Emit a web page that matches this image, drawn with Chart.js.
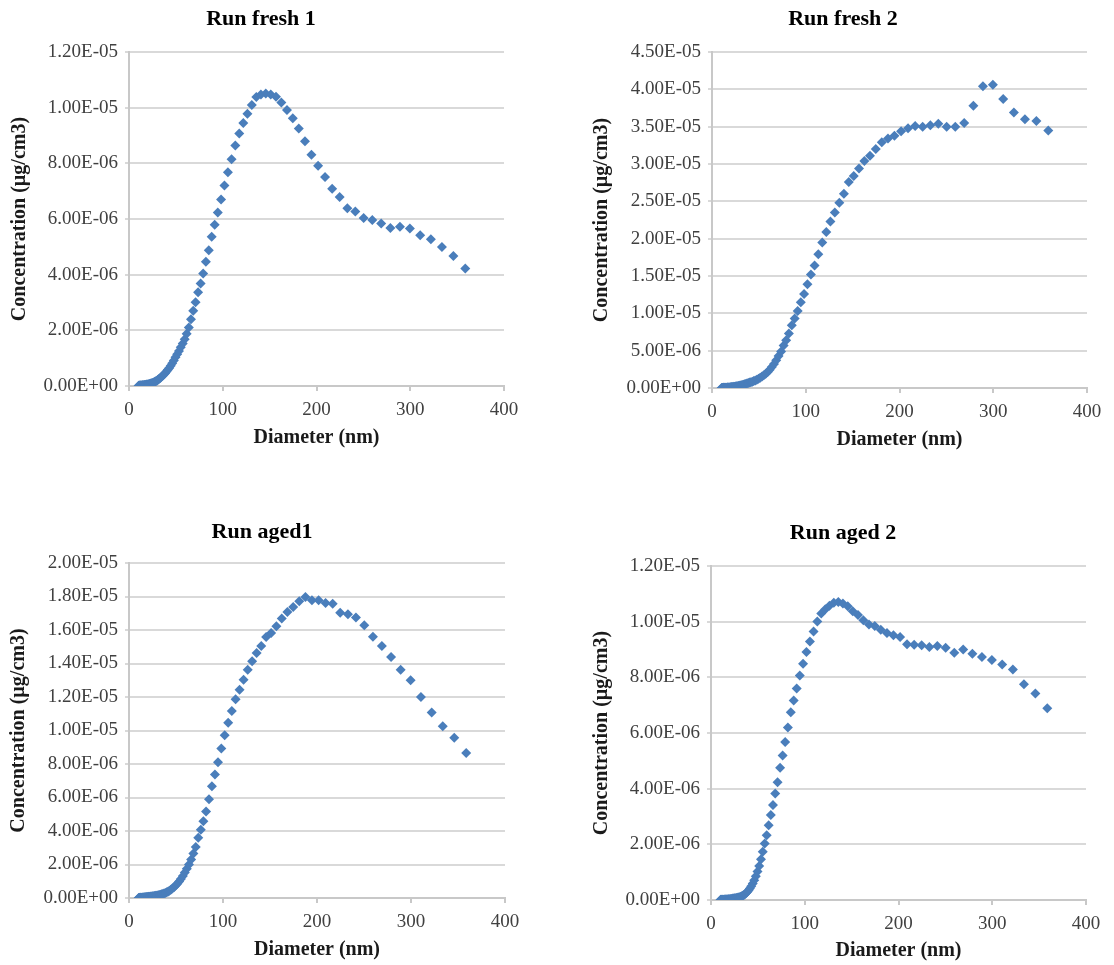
<!DOCTYPE html>
<html>
<head>
<meta charset="utf-8">
<title>Run fresh / aged size distributions</title>
<script src="https://cdn.jsdelivr.net/npm/chart.js@4.4.1/dist/chart.umd.min.js"></script>
<style>
  html, body { margin: 0; padding: 0; background: #ffffff; }
  #wrap { position: relative; width: 1114px; height: 965px; }
  #wrap canvas { position: absolute; left: 0; top: 0; }
</style>
</head>
<body>
<div id="wrap">
  <canvas id="fresh1" width="1114" height="965"></canvas>
  <canvas id="fresh2" width="1114" height="965"></canvas>
  <canvas id="aged1" width="1114" height="965"></canvas>
  <canvas id="aged2" width="1114" height="965"></canvas>
</div>
<script>
// SMPS bin midpoints (nm)
const diameters = [
  10.2, 10.6, 10.9, 11.3, 11.8, 12.2, 12.6, 13.1, 13.6, 14.1,
  14.6, 15.1, 15.7, 16.3, 16.8, 17.5, 18.1, 18.8, 19.5, 20.2,
  20.9, 21.7, 22.5, 23.3, 24.1, 25.0, 25.9, 26.9, 27.9, 28.9,
  30.0, 31.1, 32.2, 33.4, 34.6, 35.9, 37.2, 38.5, 40.0, 41.4,
  42.9, 44.5, 46.1, 47.8, 49.6, 51.4, 53.3, 55.2, 57.3, 59.4,
  61.5, 63.8, 66.1, 68.5, 71.0, 73.7, 76.4, 79.1, 82.0, 85.1,
  88.2, 91.4, 94.7, 98.2, 101.8, 105.5, 109.4, 113.4, 117.6, 121.9,
  126.3, 131.0, 135.8, 140.7, 145.9, 151.2, 156.8, 162.5, 168.5, 174.7,
  181.1, 187.7, 194.6, 201.7, 209.1, 216.7, 224.7, 232.9, 241.4, 250.3,
  259.5, 269.0, 278.8, 289.0, 299.6, 310.6, 322.0, 333.8, 346.0, 358.7,
];

// concentrations, in units of 1E-06 ug/cm3
const freshRun1 = [
  0.01, 0.01, 0.01, 0.015, 0.015, 0.015, 0.02, 0.02, 0.02, 0.025,
  0.025, 0.03, 0.03, 0.035, 0.035, 0.04, 0.045, 0.05, 0.05, 0.055,
  0.06, 0.07, 0.08, 0.09, 0.1, 0.11, 0.12, 0.14, 0.16, 0.18,
  0.2, 0.23, 0.26, 0.29, 0.33, 0.37, 0.41, 0.46, 0.52, 0.58,
  0.65, 0.73, 0.82, 0.92, 1.03, 1.14, 1.26, 1.39, 1.53, 1.68,
  1.88, 2.1, 2.4, 2.7, 3.01, 3.37, 3.68, 4.04, 4.46, 4.88,
  5.36, 5.79, 6.23, 6.7, 7.2, 7.68, 8.15, 8.64, 9.07, 9.45,
  9.78, 10.1, 10.38, 10.47, 10.51, 10.47, 10.39, 10.19, 9.92, 9.62,
  9.25, 8.79, 8.31, 7.91, 7.51, 7.09, 6.79, 6.39, 6.27, 6.04,
  5.96, 5.84, 5.68, 5.72, 5.66, 5.42, 5.27, 4.99, 4.67, 4.22,
];
const freshRun2 = [
  0.01, 0.01, 0.015, 0.015, 0.02, 0.02, 0.025, 0.03, 0.03, 0.035,
  0.04, 0.045, 0.05, 0.055, 0.06, 0.07, 0.075, 0.08, 0.09, 0.1,
  0.12, 0.13, 0.15, 0.16, 0.18, 0.2, 0.22, 0.24, 0.27, 0.3,
  0.33, 0.36, 0.4, 0.44, 0.49, 0.54, 0.6, 0.66, 0.72, 0.78,
  0.85, 0.93, 1.02, 1.12, 1.24, 1.38, 1.53, 1.7, 1.9, 2.15,
  2.45, 2.8, 3.2, 3.7, 4.3, 4.9, 5.7, 6.4, 7.3, 8.4,
  9.3, 10.3, 11.5, 12.6, 13.9, 15.2, 16.4, 17.9, 19.5, 20.9,
  22.3, 23.5, 24.8, 26.0, 27.6, 28.4, 29.4, 30.4, 31.1, 32.0,
  32.9, 33.4, 33.8, 34.4, 34.8, 35.1, 35.0, 35.2, 35.4, 35.0,
  35.0, 35.5, 37.8, 40.4, 40.6, 38.7, 36.9, 36.0, 35.76, 34.5,
];
const agedRun1 = [
  0.005, 0.005, 0.005, 0.01, 0.01, 0.01, 0.015, 0.015, 0.02, 0.02,
  0.025, 0.03, 0.03, 0.035, 0.04, 0.045, 0.05, 0.055, 0.06, 0.065,
  0.07, 0.075, 0.08, 0.085, 0.09, 0.1, 0.11, 0.12, 0.13, 0.14,
  0.15, 0.16, 0.18, 0.2, 0.22, 0.24, 0.27, 0.3, 0.34, 0.38,
  0.43, 0.49, 0.56, 0.64, 0.74, 0.85, 0.98, 1.14, 1.32, 1.52,
  1.75, 2.0, 2.3, 2.65, 3.04, 3.6, 4.08, 4.58, 5.17, 5.89,
  6.67, 7.38, 8.1, 8.92, 9.71, 10.47, 11.16, 11.86, 12.44, 13.03,
  13.63, 14.13, 14.63, 15.04, 15.58, 15.82, 16.22, 16.68, 17.07, 17.37,
  17.71, 17.97, 17.77, 17.77, 17.61, 17.57, 17.03, 16.94, 16.74, 16.28,
  15.6, 15.04, 14.39, 13.63, 13.0, 12.0, 11.08, 10.25, 9.57, 8.66,
];
const agedRun2 = [
  0.005, 0.005, 0.005, 0.005, 0.005, 0.01, 0.01, 0.01, 0.01, 0.01,
  0.015, 0.015, 0.015, 0.02, 0.02, 0.02, 0.025, 0.025, 0.03, 0.03,
  0.035, 0.04, 0.045, 0.05, 0.055, 0.06, 0.065, 0.07, 0.08, 0.09,
  0.1, 0.11, 0.13, 0.15, 0.17, 0.2, 0.24, 0.29, 0.34, 0.41,
  0.49, 0.59, 0.71, 0.85, 1.02, 1.22, 1.46, 1.73, 2.03, 2.33,
  2.69, 3.05, 3.41, 3.83, 4.23, 4.75, 5.19, 5.68, 6.2, 6.75,
  7.17, 7.6, 8.07, 8.49, 8.91, 9.29, 9.65, 10.01, 10.29, 10.45,
  10.57, 10.68, 10.71, 10.65, 10.55, 10.37, 10.24, 10.05, 9.9, 9.84,
  9.71, 9.59, 9.51, 9.45, 9.19, 9.17, 9.15, 9.09, 9.13, 9.06,
  8.88, 9.0, 8.85, 8.73, 8.62, 8.46, 8.28, 7.75, 7.42, 6.89,
];

const xTicks = { min: 0, max: 400, step: 100 };
const yAxes = {
  fresh1: { max: 12, step: 2 },
  fresh2: { max: 45, step: 5 },
  aged1: { max: 20, step: 2 },
  aged2: { max: 12, step: 2 },
};

const PAGE_W = 1114;
const PAGE_H = 965;
const SERIF = "'Liberation Serif', 'Times New Roman', serif";
const BLUE = "#4a7ebb";

// 1.20E-05 style labels
const sciLabel = (v) => {
  const parts = (v * 1e-6).toExponential(2).split("e");
  const sign = parts[1][0] === "-" ? "-" : "+";
  const exp = parts[1].replace(/[+-]/, "").padStart(2, "0");
  return parts[0] + "E" + sign + exp;
};

// box = where things sit on the page (plot area, title centres)
const makeChart = (id, title, values, yAxis, box) => {
  const ctx = document.getElementById(id).getContext("2d");
  const padLeft = 2 * box.titleX - box.right;
  const padTop = box.top - 64;

  new Chart(ctx, {
    type: "scatter",
    data: {
      datasets: [
        {
          data: diameters.map((d, i) => ({ x: d, y: values[i] })),
          pointStyle: "rectRot",
          pointRadius: 5,
          backgroundColor: BLUE,
          borderWidth: 0,
        },
      ],
    },
    options: {
      responsive: false,
      animation: false,
      events: [],
      layout: {
        padding: {
          left: padLeft,
          right: PAGE_W - box.right,
          top: padTop,
          bottom: PAGE_H - box.xTitleY - 12,
        },
      },
      plugins: {
        legend: { display: false },
        tooltip: { enabled: false },
        title: {
          display: true,
          text: title,
          color: "#000000",
          font: { family: SERIF, size: 22, weight: "bold", lineHeight: 1.2 },
          padding: {
            top: box.titleY - padTop - 13.2,
            bottom: box.top - box.titleY - 13.2,
          },
        },
      },
      scales: {
        x: {
          type: "linear",
          min: xTicks.min,
          max: xTicks.max,
          ticks: {
            stepSize: xTicks.step,
            padding: 8,
            color: "#404040",
            font: { family: SERIF, size: 19 },
          },
          grid: { drawOnChartArea: false, tickLength: 5, color: "#c8c8c8", lineWidth: 2 },
          border: { color: "#c8c8c8", width: 2 },
          title: {
            display: true,
            text: "Diameter (nm)",
            color: "#1a1a1a",
            font: { family: SERIF, size: 20, weight: "bold", lineHeight: 1.2 },
            padding: { top: 0, bottom: 0 },
          },
          afterFit: (scale) => {
            scale.height = box.xTitleY + 12 - box.bottom;
          },
        },
        y: {
          type: "linear",
          min: 0,
          max: yAxis.max,
          ticks: {
            stepSize: yAxis.step,
            padding: 7,
            color: "#404040",
            font: { family: SERIF, size: 19 },
            callback: (v) => sciLabel(v),
          },
          grid: { tickLength: 4, color: "#d9d9d9", lineWidth: 2 },
          border: { color: "#c8c8c8", width: 2 },
          title: {
            display: true,
            text: "Concentration (µg/cm3)",
            color: "#1a1a1a",
            font: { family: SERIF, size: 20, weight: "bold", lineHeight: 1.2 },
            padding: { top: box.yTitleX - padLeft - 12, bottom: 0 },
          },
          afterFit: (scale) => {
            scale.width = box.left - padLeft;
          },
        },
      },
    },
  });
};

makeChart("fresh1", "Run fresh 1", freshRun1, yAxes.fresh1, {
  left: 129, right: 504, top: 52, bottom: 386,
  titleX: 261, titleY: 19, yTitleX: 20, xTitleY: 438,
});
makeChart("fresh2", "Run fresh 2", freshRun2, yAxes.fresh2, {
  left: 712, right: 1087, top: 52, bottom: 388,
  titleX: 843, titleY: 19, yTitleX: 602, xTitleY: 440,
});
makeChart("aged1", "Run aged1", agedRun1, yAxes.aged1, {
  left: 129, right: 505, top: 563, bottom: 898,
  titleX: 262, titleY: 532, yTitleX: 19, xTitleY: 950,
});
makeChart("aged2", "Run aged 2", agedRun2, yAxes.aged2, {
  left: 711, right: 1086, top: 566, bottom: 900,
  titleX: 843, titleY: 533, yTitleX: 602, xTitleY: 951,
});
</script>
</body>
</html>
